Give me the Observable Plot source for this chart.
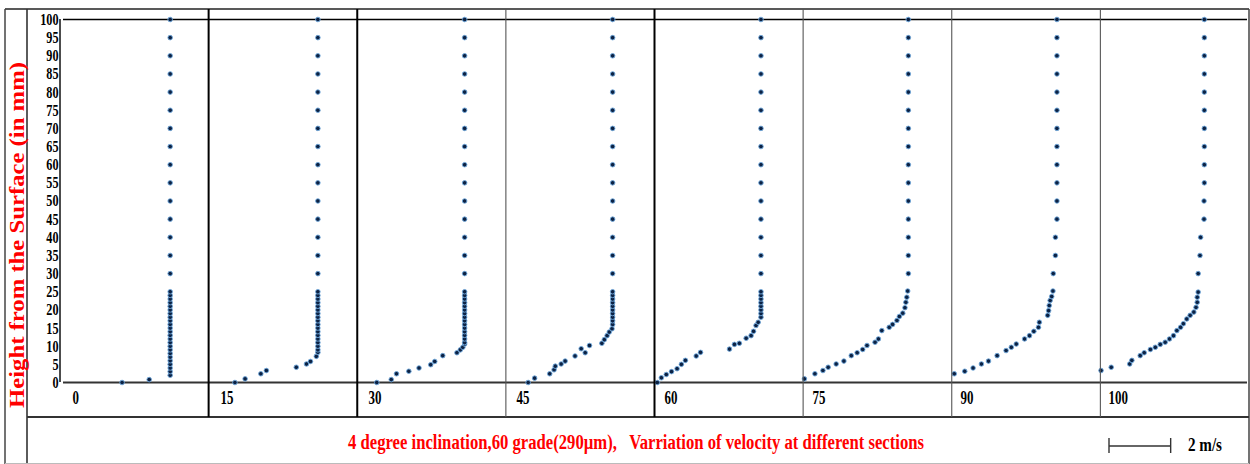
<!DOCTYPE html>
<html>
<head>
<meta charset="utf-8">
<script src="https://cdn.jsdelivr.net/npm/d3@7"></script>
<script src="https://cdn.jsdelivr.net/npm/@observablehq/plot@0.6"></script>
<style>
  body { margin: 0; background: #fff; }
  #wrap { position: relative; width: 1250px; height: 464px; overflow: hidden; background: #fff; }
  #wrap > svg { position: absolute; left: 0; top: 0; }
</style>
</head>
<body>
<div id="wrap"></div>
<script>
// ---- data ----
const sections = [0, 15, 30, 45, 60, 75, 90, 100];
const heightTicks = [0, 5, 10, 15, 20, 25, 30, 35, 40, 45, 50, 55, 60, 65, 70, 75, 80, 85, 90, 95, 100];
const velocityDomain = [0, 4.8];
const scaleBarValue = 2;

// height (mm) / velocity (m/s) per section
const h0 = [0, 0.8, 2, 3, 4, 5, 6, 7, 8, 9, 10, 11, 12, 13, 14, 15, 16, 17, 18, 19, 20, 21, 22, 23, 24, 25,
  30, 35, 40, 45, 50, 55, 60, 65, 70, 75, 80, 85, 90, 95, 100];
const v0 = [1.9, 2.78, 3.46, 3.46, 3.46, 3.46, 3.46, 3.46, 3.46, 3.46, 3.46, 3.46, 3.46, 3.46, 3.46, 3.46, 3.46, 3.46, 3.46, 3.46, 3.46, 3.46, 3.46, 3.46, 3.46, 3.46,
  3.46, 3.46, 3.46, 3.46, 3.46, 3.46, 3.46, 3.46, 3.46, 3.46, 3.46, 3.46, 3.46, 3.46, 3.46];

const h15 = [0, 1.0, 2.4, 3.3, 4.2, 5.1, 5.8, 7.2, 8.3, 9, 10, 11, 12, 13, 14, 15, 16, 17, 18, 19, 20, 21, 22, 23, 24, 25,
  30, 35, 40, 45, 50, 55, 60, 65, 70, 75, 80, 85, 90, 95, 100];
const v15 = [0.76, 1.09, 1.60, 1.78, 2.75, 3.08, 3.21, 3.40, 3.45, 3.45, 3.45, 3.45, 3.45, 3.45, 3.45, 3.45, 3.45, 3.45, 3.45, 3.45, 3.45, 3.45, 3.45, 3.45, 3.45, 3.45,
  3.45, 3.45, 3.45, 3.45, 3.45, 3.45, 3.45, 3.45, 3.45, 3.45, 3.45, 3.45, 3.45, 3.45, 3.45];

const h30 = [0, 0.8, 2.4, 3.1, 4.0, 4.9, 5.8, 7.4, 8.2, 9.0, 9.7, 10.6, 11, 12, 13, 14, 15, 16, 17, 18, 19, 20, 21, 22, 23, 24, 25,
  30, 35, 40, 45, 50, 55, 60, 65, 70, 75, 80, 85, 90, 95, 100];
const v30 = [0.56, 1.03, 1.20, 1.60, 1.93, 2.31, 2.44, 2.70, 3.16, 3.27, 3.35, 3.41, 3.41, 3.41, 3.41, 3.41, 3.41, 3.41, 3.41, 3.41, 3.41, 3.41, 3.41, 3.41, 3.41, 3.41, 3.41,
  3.41, 3.41, 3.41, 3.41, 3.41, 3.41, 3.41, 3.41, 3.41, 3.41, 3.41, 3.41, 3.41, 3.41, 3.41];

const h45 = [0, 1.2, 2.4, 3.5, 4.5, 5.1, 5.9, 7.3, 8.2, 9.3, 10.2, 10.8, 11.8, 12.9, 13.9, 14.8, 16, 17, 18, 19, 20, 21, 22, 23, 24, 25,
  30, 35, 40, 45, 50, 55, 60, 65, 70, 75, 80, 85, 90, 95, 100];
const v45 = [0.67, 0.88, 1.37, 1.51, 1.55, 1.74, 1.87, 2.19, 2.52, 2.39, 2.66, 3.06, 3.14, 3.23, 3.30, 3.39, 3.41, 3.41, 3.41, 3.41, 3.41, 3.41, 3.41, 3.41, 3.41, 3.41,
  3.41, 3.41, 3.41, 3.41, 3.41, 3.41, 3.41, 3.41, 3.41, 3.41, 3.41, 3.41, 3.41, 3.41, 3.41];

const h60 = [0, 1.3, 2.2, 3.0, 3.8, 5.0, 6.1, 7.3, 8.3, 9.2, 10.5, 10.8, 12.2, 12.9, 14.1, 15.7, 16.6, 18.0, 19, 20, 21, 22, 23, 24, 25,
  30, 35, 40, 45, 50, 55, 60, 65, 70, 75, 80, 85, 90, 95, 100];
const v60 = [0.06, 0.19, 0.35, 0.52, 0.70, 0.84, 0.97, 1.32, 1.46, 2.40, 2.56, 2.72, 2.94, 3.10, 3.18, 3.26, 3.33, 3.42, 3.42, 3.42, 3.42, 3.42, 3.42, 3.42, 3.42,
  3.42, 3.42, 3.42, 3.42, 3.42, 3.42, 3.42, 3.42, 3.42, 3.42, 3.42, 3.42, 3.42, 3.42, 3.42];

const h75 = [1.0, 2.4, 3.3, 4.2, 5.1, 5.9, 7.4, 8.2, 9.1, 10.2, 11.1, 12.0, 14.3, 15.2, 16.0, 17.1, 18.2, 19.1, 20.6, 22.1, 23.5, 25.2,
  30, 35, 40, 45, 50, 55, 60, 65, 70, 75, 80, 85, 90, 95, 100];
const v75 = [0.03, 0.37, 0.63, 0.80, 1.06, 1.31, 1.55, 1.74, 1.92, 2.06, 2.32, 2.43, 2.54, 2.78, 2.89, 3.03, 3.11, 3.22, 3.29, 3.32, 3.35, 3.38,
  3.40, 3.40, 3.40, 3.40, 3.40, 3.40, 3.40, 3.40, 3.40, 3.40, 3.40, 3.40, 3.40, 3.40, 3.40];

const h90 = [2.4, 3.1, 4.0, 5.1, 5.9, 7.4, 8.8, 9.7, 10.6, 12.0, 12.9, 14.1, 15.2, 16.6, 18.5, 19.8, 21.2, 22.6, 23.7, 25.2,
  30, 35, 40, 45, 50, 55, 60, 65, 70, 75, 80, 85, 90, 95, 100];
const v90 = [0.09, 0.43, 0.70, 0.97, 1.20, 1.48, 1.77, 1.94, 2.10, 2.37, 2.53, 2.67, 2.82, 2.85, 3.12, 3.15, 3.17, 3.20, 3.25, 3.29,
  3.30, 3.37, 3.37, 3.42, 3.42, 3.42, 3.42, 3.42, 3.42, 3.42, 3.42, 3.42, 3.42, 3.42, 3.42];

const h100 = [3.3, 4.2, 5.1, 6.1, 7.4, 8.2, 9.1, 9.7, 10.5, 11.1, 12.0, 12.9, 14.3, 15.2, 16.2, 17.5, 18.5, 19.4, 20.7, 22.1, 23.5, 24.9,
  30, 35, 40, 45, 50, 55, 60, 65, 70, 75, 80, 85, 90, 95, 100];
const v100 = [0.05, 0.38, 0.98, 1.05, 1.32, 1.45, 1.65, 1.81, 1.97, 2.13, 2.27, 2.40, 2.51, 2.63, 2.72, 2.83, 2.94, 3.06, 3.13, 3.17, 3.17, 3.20,
  3.20, 3.26, 3.28, 3.39, 3.39, 3.40, 3.40, 3.40, 3.40, 3.40, 3.40, 3.40, 3.40, 3.40, 3.40];

const yTitle = "Height from the Surface (in mm)";
const captionText = "4 degree inclination,60 grade(290\u00B5m),   Varriation of velocity at different sections";
const scaleBarLabel = "2 m/s";

// ---- build table ----
const profileH = [h0, h15, h30, h45, h60, h75, h90, h100];
const profileV = [v0, v15, v30, v45, v60, v75, v90, v100];
const points = [];
sections.forEach((s, k) => {
  const H = profileH[k], V = profileV[k];
  const n = Math.min(H.length, V.length);
  for (let i = 0; i < n; i++) points.push({section: s, height: H[i], velocity: V[i]});
});

const SERIF = "'Liberation Serif', 'Times New Roman', 'DejaVu Serif', serif";

const plot = Plot.plot({
  width: 1250,
  height: 417,
  marginTop: 19,
  marginBottom: 35,
  marginLeft: 60,
  marginRight: 1,
  style: {fontFamily: SERIF, fontSize: "17px", fontWeight: "bold", color: "#000", background: "transparent", overflow: "visible"},
  fx: {domain: sections, padding: 0, axis: null},
  x: {domain: velocityDomain, axis: null},
  y: {domain: [0, 100], ticks: heightTicks, tickSize: 0, tickPadding: 5, label: null, tickFormat: d => String(d)},
  marks: [
    Plot.ruleY([100], {stroke: "#000", strokeWidth: 1.5}),
    Plot.ruleY([0], {stroke: "#333", strokeWidth: 2}),
    Plot.text(sections, {fx: d => d, text: d => String(d), frameAnchor: "bottom-left", dx: 9, dy: 16,
      textAnchor: "start", lineAnchor: "middle", fontSize: 18, fontWeight: "bold", fill: "#000"}),
    Plot.dot(points, {fx: "section", x: "velocity", y: "height", r: 2.3,
      fill: "#0c2244", stroke: "#6fa8dc", strokeWidth: 0.9})
  ]
});

// condense the serif labels horizontally like the reference
d3.select(plot).selectAll("text").each(function () {
  const t = this.getAttribute("transform") || "";
  this.setAttribute("transform", (t + " scale(0.72,1)").trim());
});

const wrap = document.getElementById("wrap");
wrap.appendChild(plot);

// ---- table borders, title, caption and scale bar ----
const fxs = plot.scale("fx");
const fxRange = (fxs && fxs.range) ? fxs.range : [60, 1249];
const band = d3.scaleBand().domain(sections).range(fxRange).padding(0);
const xs = plot.scale("x");
let barLen;
if (xs && xs.apply) barLen = Math.abs(xs.apply(scaleBarValue) - xs.apply(0));
else barLen = band.bandwidth() * scaleBarValue / (velocityDomain[1] - velocityDomain[0]);

const ov = d3.create("svg").attr("width", 1250).attr("height", 464)
  .attr("viewBox", "0 0 1250 464").style("pointer-events", "none");
const line = (x1, y1, x2, y2, stroke, w) => ov.append("line")
  .attr("x1", x1).attr("y1", y1).attr("x2", x2).attr("y2", y2)
  .attr("stroke", stroke).attr("stroke-width", w);

const right = fxRange[1];
line(5, 9, right, 9, "#222", 1.6);          // outer top
line(5, 9, 5, 464, "#444", 1.5);            // outer left
line(27, 9, 27, 464, "#333", 1.6);          // title column
line(right, 9, right, 464, "#444", 1.5);    // outer right
line(27, 417, right, 417, "#333", 2);       // caption top
line(5, 463.5, right, 463.5, "#bbb", 1);    // bottom
line(band(sections[0]), 19, band(sections[0]), 382, "#111", 1.5); // first panel left
const strong = [false, true, true, false, true, false, false, false];
sections.forEach((s, i) => {
  if (i === 0) return;
  const x = band(s);
  if (strong[i]) line(x, 9, x, 417, "#000", 2);
  else line(x, 9, x, 417, "#555", 1.1);
});

// y title
ov.append("text")
  .attr("transform", "translate(24,235) rotate(-90)")
  .attr("text-anchor", "middle")
  .attr("font-family", SERIF).attr("font-weight", "bold").attr("font-size", 20)
  .attr("fill", "#ff0000")
  .attr("textLength", 346).attr("lengthAdjust", "spacingAndGlyphs")
  .text(yTitle);

// caption
ov.append("text")
  .attr("x", 636).attr("y", 449)
  .attr("text-anchor", "middle")
  .style("white-space", "pre")
  .attr("font-family", SERIF).attr("font-weight", "bold").attr("font-size", 20)
  .attr("fill", "#ff0000")
  .attr("textLength", 576).attr("lengthAdjust", "spacingAndGlyphs")
  .text(captionText);

// scale bar
const bx = 1109, by = 446;
line(bx, by, bx + barLen, by, "#333", 1.4);
line(bx, by - 8, bx, by + 7, "#333", 1.4);
line(bx + barLen, by - 8, bx + barLen, by + 7, "#333", 1.4);
ov.append("text")
  .attr("x", 1188).attr("y", 451)
  .attr("font-family", SERIF).attr("font-weight", "bold").attr("font-size", 18)
  .attr("fill", "#000")
  .attr("textLength", 34).attr("lengthAdjust", "spacingAndGlyphs")
  .text(scaleBarLabel);

wrap.appendChild(ov.node());
</script>
</body>
</html>
